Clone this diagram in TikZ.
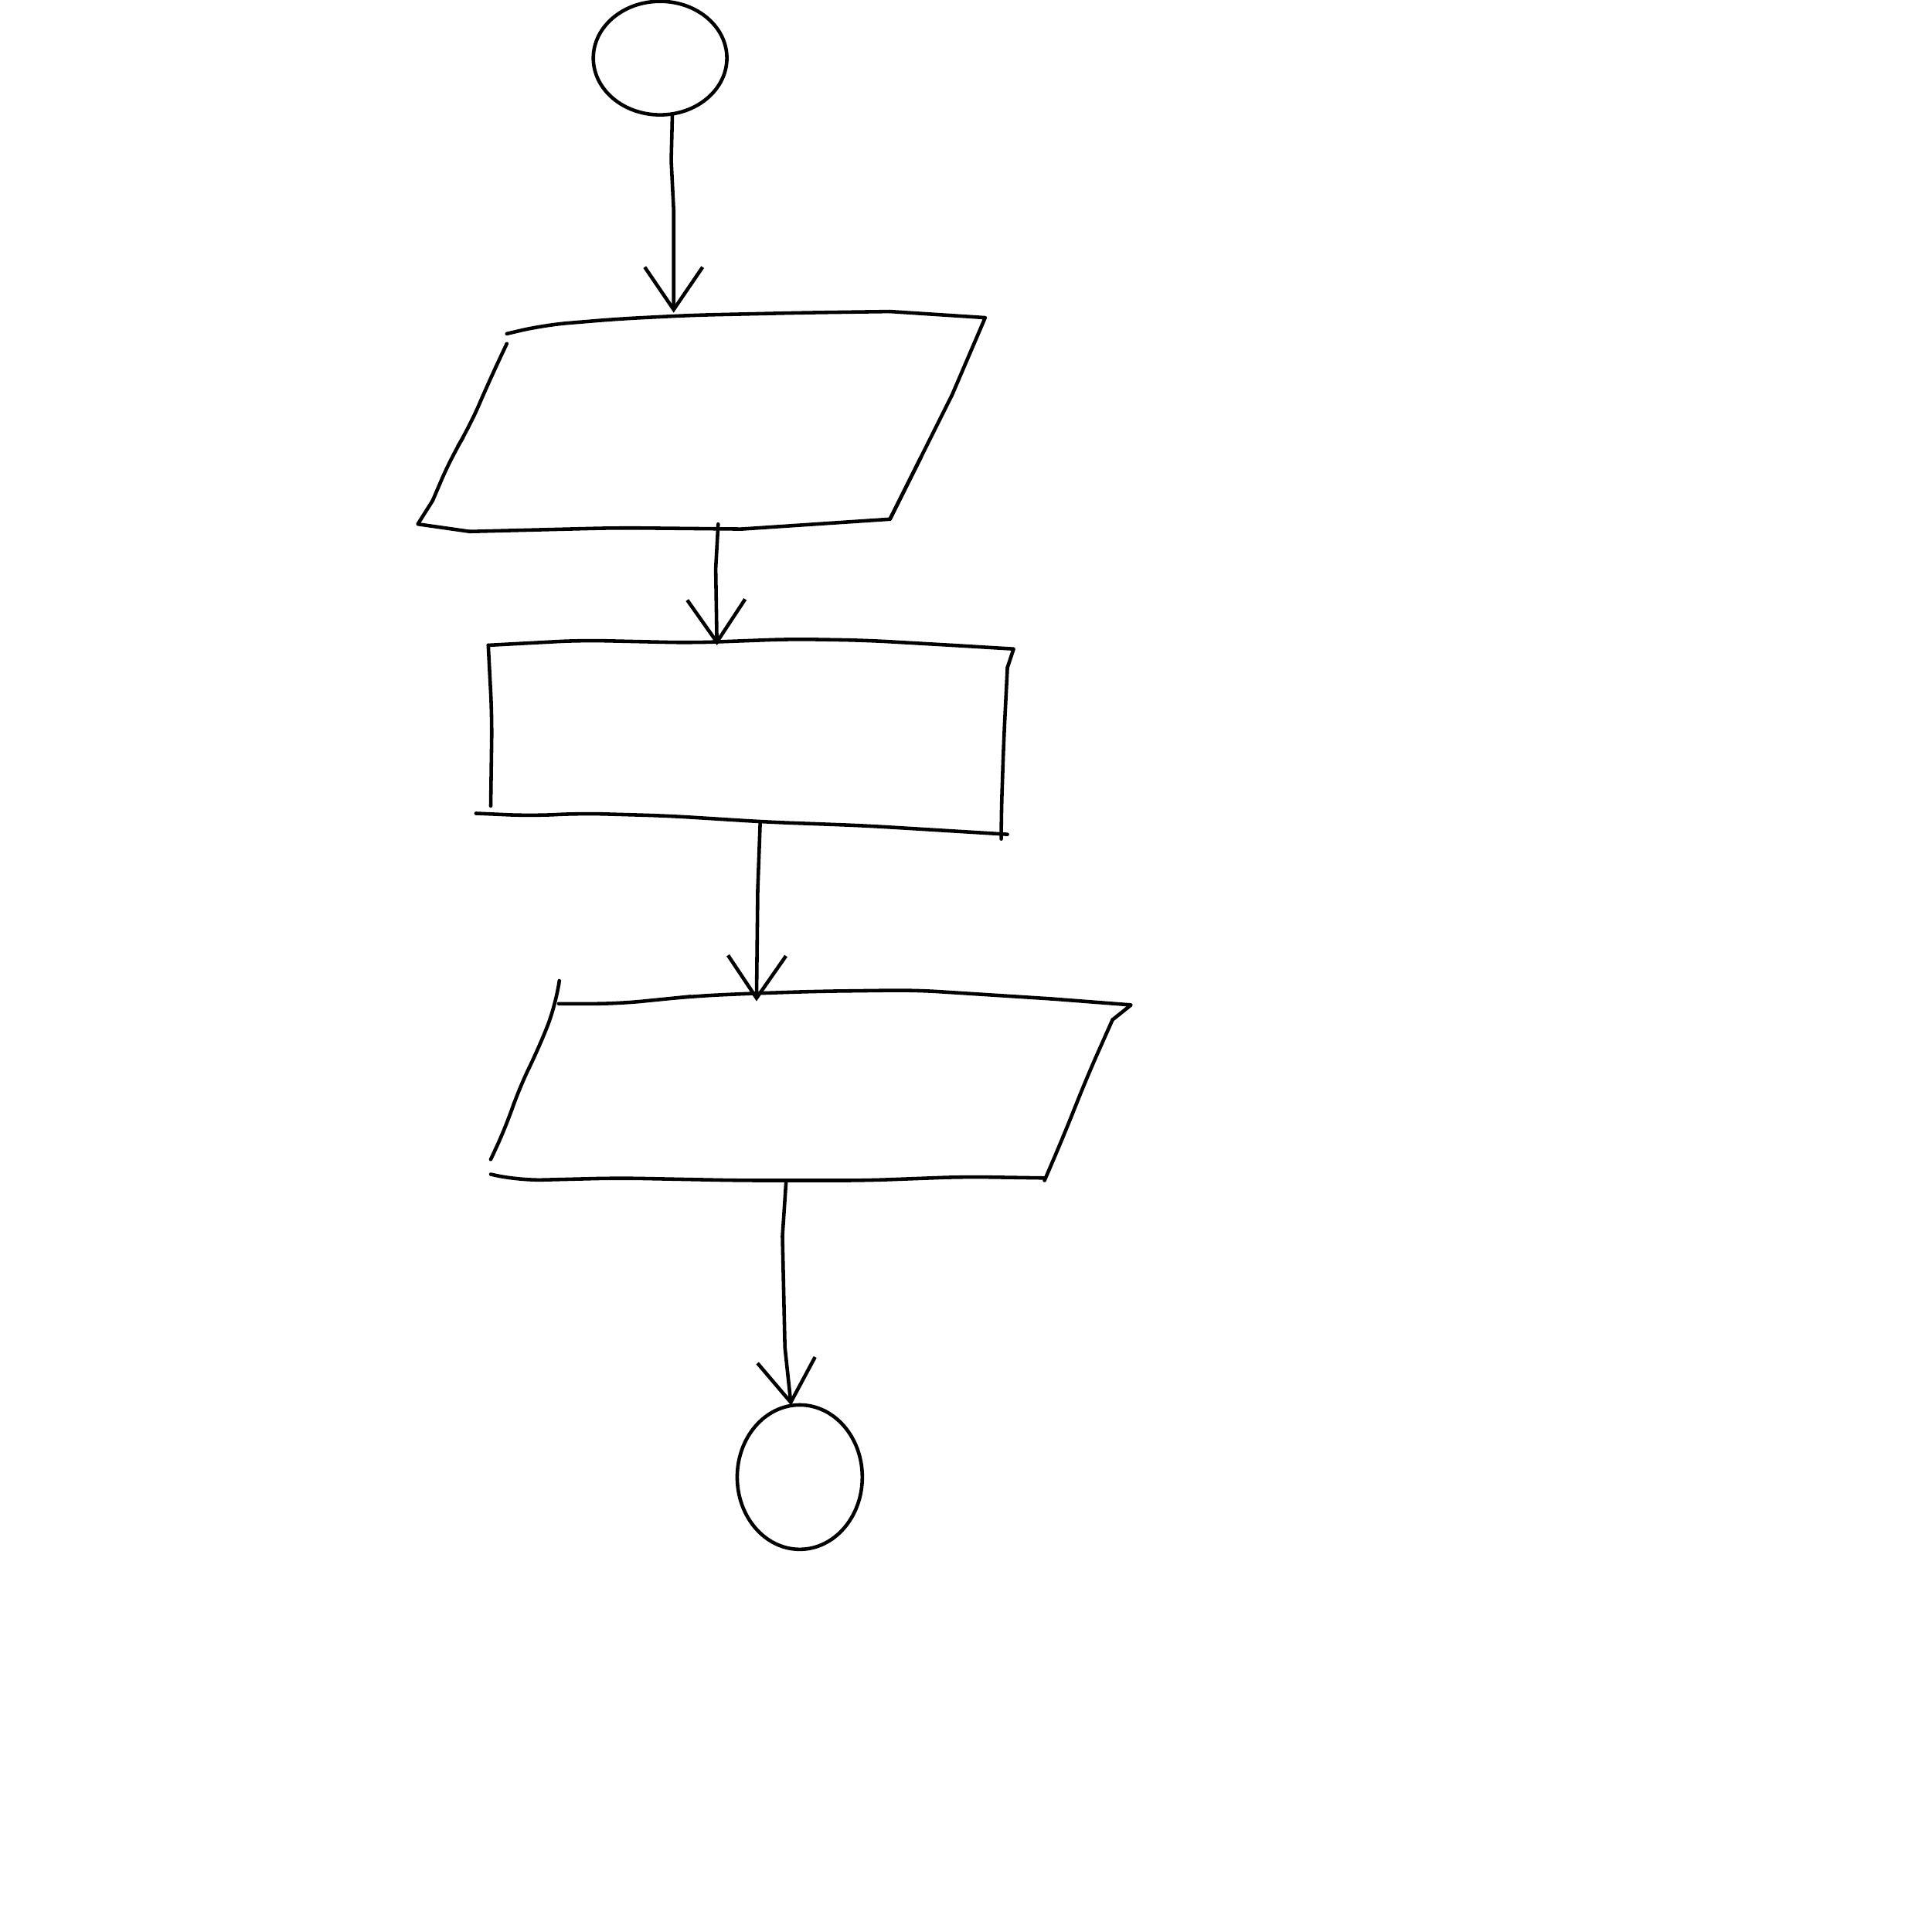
\documentclass[tikz,border=0pt]{standalone}
\usetikzlibrary{arrows.meta,shapes.geometric}
\begin{document}
\begin{tikzpicture}[x=0.016cm,y=-0.016cm,
  ink/.style={line width=1.3pt,line cap=round,line join=round,black,rounded corners=0.3cm},
  conn/.style={ink,rounded corners=0pt,-{Straight Barb[length=5.5mm,width=7.5mm,line width=1.3pt]}},
  term/.style={line width=1.3pt,black,draw,ellipse,inner sep=0pt}]
\useasboundingbox[fill=white] (0,0) rectangle (1563,1563);
% terminals
\node[term,minimum width=1.73cm,minimum height=1.47cm] (start) at (534,47) {};
\node[term,minimum width=1.62cm,minimum height=1.87cm] (stop) at (647,1195) {};
% parallelogram 1
\draw[ink] (410,270) -- (440,263) -- (500,258) -- (560,255) -- (650,253) -- (720,252);
\draw[ink,rounded corners=0pt] (720,252) -- (797,257) -- (770,320);
\draw[ink] (770,320) -- (745,370) -- (720,420);
\draw[ink,rounded corners=0pt] (745,370) -- (720,420) -- (600,428);
\draw[ink] (600,428) -- (500,427) -- (380,430);
\draw[ink,rounded corners=0pt] (380,430) -- (338,424) -- (350,405);
\draw[ink] (350,405) -- (365,370) -- (380,345) -- (395,310) -- (410,278);
\coordinate (inTop) at (545,253);
\coordinate (inBot) at (581,424);
% rectangle
\draw[ink] (395,522) -- (470,518) -- (560,520) -- (640,517) -- (700,518) -- (770,522);
\draw[ink,rounded corners=0pt] (770,522) -- (820,525) -- (815,540);
\draw[ink] (815,540) -- (812,600) -- (810,660) -- (810,672);
\draw[ink] (385,658) -- (430,660) -- (470,658) -- (540,660) -- (620,665) -- (700,668) -- (815,675);
\draw[ink] (395,522) -- (398,580) -- (397,652);
\coordinate (procTop) at (580,522);
\coordinate (procBot) at (615,665);
% parallelogram 2
\draw[ink] (452,812) -- (500,812) -- (540,808) -- (560,806) -- (600,804) -- (660,802) -- (740,801) -- (850,808);
\draw[ink,rounded corners=0pt] (850,808) -- (915,813) -- (900,825);
\draw[ink] (900,825) -- (880,870) -- (860,920) -- (845,955);
\draw[ink] (452,797) -- (450,812) -- (435,850) -- (420,880) -- (410,910) -- (397,938);
\draw[ink] (397,950) -- (420,955) -- (500,953) -- (600,955) -- (700,955) -- (780,952) -- (845,953);
\coordinate (outTop) at (612,810);
\coordinate (outBot) at (636,955);
\coordinate (stopTop) at (640,1137);
% connectors
\draw[conn] (start.-78) -- (543,130) -- (545,170) -- (inTop);
\draw[conn] (inBot) -- (579,460) -- (procTop);
\draw[conn] (procBot) -- (613,720) -- (outTop);
\draw[conn] (outBot) -- (633,1000) -- (635,1090) -- (stopTop);
\end{tikzpicture}
\end{document}
